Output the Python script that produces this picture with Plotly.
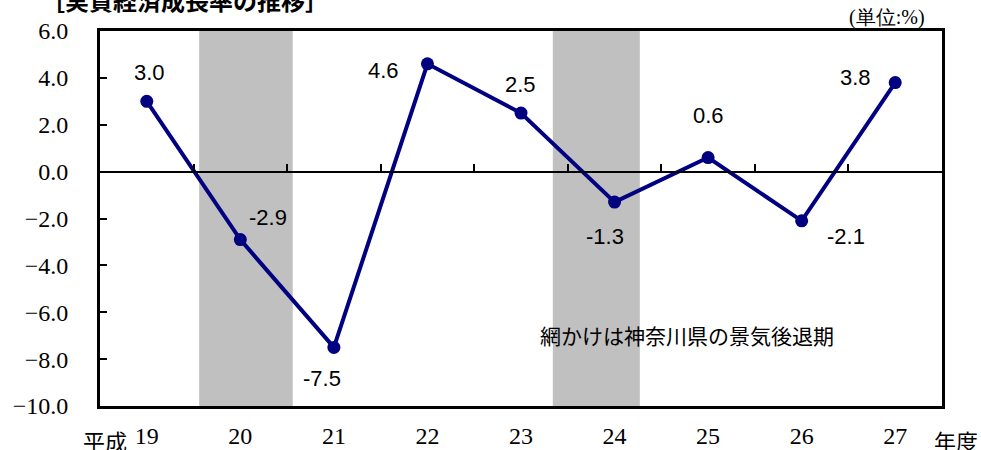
import plotly.graph_objects as go

# ---- data ----
years = ["19", "20", "21", "22", "23", "24", "25", "26", "27"]
growth = [3.0, -2.9, -7.5, 4.6, 2.5, -1.3, 0.6, -2.1, 3.8]
labels = ["3.0", "-2.9", "-7.5", "4.6", "2.5", "-1.3", "0.6", "-2.1", "3.8"]
# recession periods (category index units)
recession_start = [0.56, 4.34]
recession_end = [1.56, 5.27]

# label offsets in pixels (style)
label_dx = [3, 28, -12, -44, -1, -10, 0, 44, -40]
label_dy = [29, 22, -31, -7, 29, -34, 42, -16, 5]

NAVY = "#000080"
SERIF = "'Liberation Serif', 'Times New Roman', 'DejaVu Serif', serif"
SANS = "'Liberation Sans', Arial, sans-serif"
CJK = "'Noto Sans CJK JP', sans-serif"

fig = go.Figure()

fig.add_trace(go.Scatter(
    x=years, y=growth, mode="lines+markers",
    line=dict(color=NAVY, width=4),
    marker=dict(color=NAVY, size=13),
    showlegend=False, hoverinfo="x+y",
))
# invisible trace to anchor the zero-line axis
fig.add_trace(go.Scatter(
    x=years, y=growth, mode="markers", marker=dict(opacity=0),
    xaxis="x2", showlegend=False, hoverinfo="skip",
))

shapes = []
for s, e in zip(recession_start, recession_end):
    shapes.append(dict(type="rect", xref="x", yref="y", x0=s, x1=e, y0=-10, y1=6,
                       fillcolor="#C0C0C0", line=dict(width=0), layer="below"))

annotations = []
for i, (v, t, dx, dy) in enumerate(zip(growth, labels, label_dx, label_dy)):
    annotations.append(dict(x=i, y=v, xref="x", yref="y", text=t, showarrow=False,
                            xshift=dx, yshift=dy, xanchor="center", yanchor="middle",
                            font=dict(family=SANS, size=22, color="black")))

annotations += [
    dict(text="［実質経済成長率の推移］", xref="paper", yref="paper", x=-0.072, y=1.083,
         xanchor="left", yanchor="middle", showarrow=False,
         font=dict(family=CJK, size=24, color="black", weight="bold")),
    dict(text="(単位:%)", xref="paper", yref="paper", x=0.982, y=1.036,
         xanchor="right", yanchor="middle", showarrow=False,
         font=dict(family=SERIF, size=20, color="black")),
    dict(text="網かけは神奈川県の景気後退期", xref="paper", yref="paper", x=0.697, y=0.189,
         xanchor="center", yanchor="middle", showarrow=False,
         font=dict(family=CJK, size=21, color="black")),
    dict(text="平成", xref="paper", yref="paper", x=(129 - 100) / 842, y=-0.09,
         xanchor="right", yanchor="middle", showarrow=False,
         font=dict(family=CJK, size=22, color="black")),
    dict(text="年度", xref="paper", yref="paper", x=(932 - 100) / 842, y=-0.09,
         xanchor="left", yanchor="middle", showarrow=False,
         font=dict(family=CJK, size=22, color="black")),
]

fig.update_layout(
    width=981, height=450,
    margin=dict(l=100, r=39, t=31, b=44, autoexpand=False),
    paper_bgcolor="white", plot_bgcolor="white",
    shapes=shapes, annotations=annotations,
    xaxis=dict(type="category", range=[-0.5, 8.5], showgrid=False, zeroline=False,
               showline=True, linecolor="black", linewidth=3, mirror=True,
               ticks="", tickfont=dict(family=SERIF, size=24, color="black"),
               ticklabelstandoff=6, automargin=False),
    xaxis2=dict(type="category", overlaying="x", anchor="free", position=0.625,
                range=[-0.5, 8.5], showgrid=False, zeroline=False,
                showline=True, linecolor="black", linewidth=2,
                ticks="inside", tickson="boundaries", ticklen=7, tickwidth=2,
                tickcolor="black", showticklabels=False, automargin=False),
    yaxis=dict(range=[-10, 6], dtick=2, tickformat=".1f", showgrid=False, zeroline=False,
               showline=True, linecolor="black", linewidth=3, mirror=True,
               ticks="inside", ticklen=7, tickwidth=2, tickcolor="black",
               tickfont=dict(family=SERIF, size=24, color="black"),
               ticklabelstandoff=24, automargin=False),
)

fig.write_html("out.html", config={"displayModeBar": False},
               post_script="document.body.style.margin='0';document.body.style.overflow='hidden';")
